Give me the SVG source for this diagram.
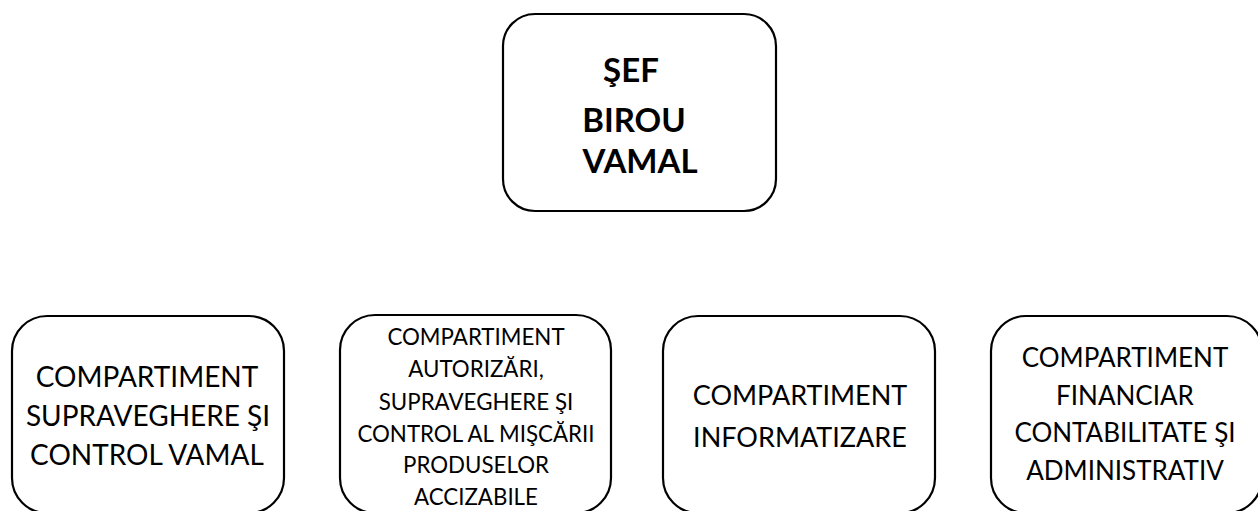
<svg xmlns="http://www.w3.org/2000/svg" width="1258" height="511" viewBox="0 0 1258 511">
<style>
.box{fill:#fff;stroke:#000;stroke-width:2.2}
.t{font-family:Lato,"Open Sans",sans-serif;fill:#000;text-anchor:middle}
.b{font-weight:bold;font-size:33px}
</style>
<rect width="1258" height="511" fill="#fff"/>
<g id="connectors"></g>
<g id="sef">
<rect class="box" x="503" y="14" width="273" height="197" rx="32" ry="32"/>
<text class="t b" x="631" y="82">ŞEF</text>
<text class="t b" x="634" y="132">BIROU</text>
<text class="t b" x="640" y="173">VAMAL</text>
</g>
<g id="supraveghere">
<rect class="box" x="12" y="316" width="272" height="197" rx="35" ry="35"/>
<text class="t" font-size="28" x="147" y="387">COMPARTIMENT</text>
<text class="t" font-size="28" x="148" y="426">SUPRAVEGHERE ŞI</text>
<text class="t" font-size="28" x="147" y="465">CONTROL VAMAL</text>
</g>
<g id="autorizari">
<rect class="box" x="340" y="315" width="271" height="198" rx="35" ry="35"/>
<text class="t" font-size="22.3" x="476" y="345">COMPARTIMENT</text>
<text class="t" font-size="22.3" x="476" y="377">AUTORIZĂRI,</text>
<text class="t" font-size="22.3" x="476" y="410">SUPRAVEGHERE ŞI</text>
<text class="t" font-size="22.3" x="476" y="442">CONTROL AL MIŞCĂRII</text>
<text class="t" font-size="22.3" x="476" y="473">PRODUSELOR</text>
<text class="t" font-size="22.3" x="476" y="505">ACCIZABILE</text>
</g>
<g id="informatizare">
<rect class="box" x="663" y="316" width="272" height="197" rx="35" ry="35"/>
<text class="t" font-size="27" x="800" y="405">COMPARTIMENT</text>
<text class="t" font-size="27" x="800" y="447">INFORMATIZARE</text>
</g>
<g id="financiar">
<rect class="box" x="991" y="316" width="271" height="197" rx="35" ry="35"/>
<text class="t" font-size="26" x="1125" y="367">COMPARTIMENT</text>
<text class="t" font-size="26" x="1125" y="405">FINANCIAR</text>
<text class="t" font-size="26" x="1125" y="442">CONTABILITATE ŞI</text>
<text class="t" font-size="26" x="1125" y="480">ADMINISTRATIV</text>
</g>
</svg>
